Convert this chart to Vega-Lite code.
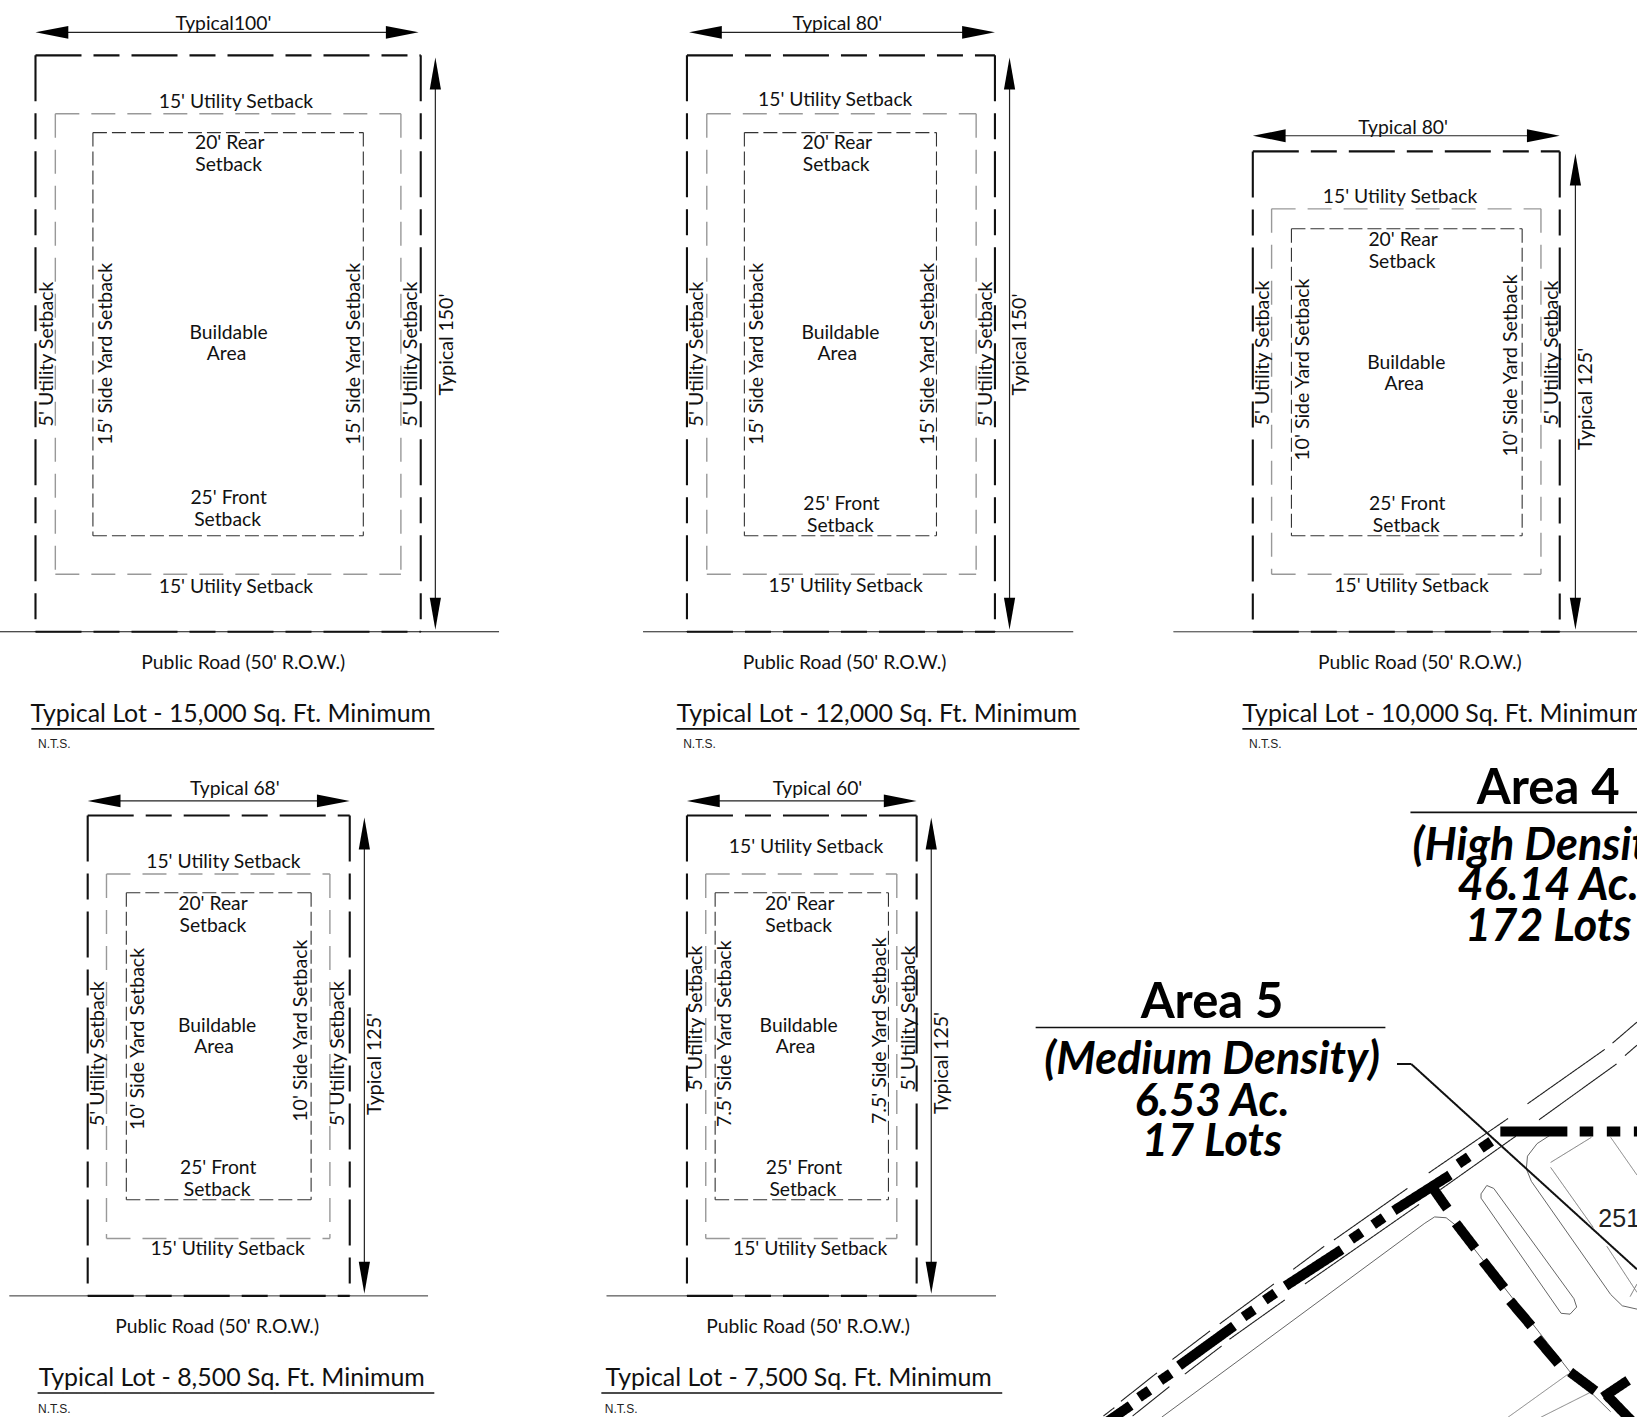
{
"$schema":"https://vega.github.io/schema/vega-lite/v6.json",
"width":1637,"height":1417,"padding":0,"background":"white",
"autosize":"none",
"config":{"view":{"stroke":null}},
"datasets":{
"paths":[
{"p":"lot","o":1,"x":1112.7,"y":1357.2},{"p":"lot","o":2,"x":1364.8,"y":1171.4},{"p":"lot","o":3,"x":1374.1,"y":1165.4},{"p":"lot","o":4,"x":1385.2,"y":1166.2},{"p":"lot","o":5,"x":1394.5,"y":1173.5},{"p":"lot","o":6,"x":1503.9,"y":1313.9},{"p":"lot","o":7,"x":1542.8,"y":1352},
{"p":"pond","o":1,"x":1490.9,"y":1083.2},{"p":"pond","o":2,"x":1472.3,"y":1095.2},{"p":"pond","o":3,"x":1463.1,"y":1107.2},{"p":"pond","o":4,"x":1462,"y":1119.3},{"p":"pond","o":5,"x":1466.8,"y":1131.3},{"p":"pond","o":6,"x":1542.8,"y":1239.7},{"p":"pond","o":7,"x":1553.9,"y":1250.5},{"p":"pond","o":8,"x":1568,"y":1253.7},
{"p":"island","o":1,"x":1418.6,"y":1143.3},{"p":"island","o":2,"x":1424.1,"y":1135.3},{"p":"island","o":3,"x":1430.8,"y":1138.1},{"p":"island","o":4,"x":1507.6,"y":1243.7},{"p":"island","o":5,"x":1510.2,"y":1251.7},{"p":"island","o":6,"x":1503.9,"y":1258.5},{"p":"island","o":7,"x":1495.3,"y":1257.7},{"p":"island","o":8,"x":1418.6,"y":1147.4},{"p":"island","o":9,"x":1418.6,"y":1143.3}
],
"segments":[
{"k":"road","x":0,"x2":478,"y":605,"y2":605},{"k":"road","x":616,"x2":1028,"y":605,"y2":605},{"k":"road","x":1124,"x2":1568,"y":605,"y2":605},{"k":"road","x":9,"x2":410,"y":1241,"y2":1241},{"k":"road","x":581,"x2":954,"y":1241,"y2":1241},

{"k":"outer","x":34,"x2":403,"y":53,"y2":53},{"k":"outer","x":34,"x2":403,"y":605,"y2":605},{"k":"outer","x":34,"x2":34,"y":53,"y2":605},{"k":"outer","x":403,"x2":403,"y":53,"y2":605},
{"k":"outer","x":658,"x2":953,"y":53,"y2":53},{"k":"outer","x":658,"x2":953,"y":605,"y2":605},{"k":"outer","x":658,"x2":658,"y":53,"y2":605},{"k":"outer","x":953,"x2":953,"y":53,"y2":605},
{"k":"outer","x":1200,"x2":1494,"y":145,"y2":145},{"k":"outer","x":1200,"x2":1494,"y":605,"y2":605},{"k":"outer","x":1200,"x2":1200,"y":145,"y2":605},{"k":"outer","x":1494,"x2":1494,"y":145,"y2":605},
{"k":"outer","x":84,"x2":335,"y":781,"y2":781},{"k":"outer","x":84,"x2":335,"y":1241,"y2":1241},{"k":"outer","x":84,"x2":84,"y":781,"y2":1241},{"k":"outer","x":335,"x2":335,"y":781,"y2":1241},
{"k":"outer","x":658,"x2":878,"y":781,"y2":781},{"k":"outer","x":658,"x2":878,"y":1241,"y2":1241},{"k":"outer","x":658,"x2":658,"y":781,"y2":1241},{"k":"outer","x":878,"x2":878,"y":781,"y2":1241},

{"k":"utility","x":53,"x2":384,"y":109,"y2":109},{"k":"utility","x":53,"x2":384,"y":550,"y2":550},{"k":"utility","x":53,"x2":53,"y":109,"y2":550},{"k":"utility","x":384,"x2":384,"y":109,"y2":550},
{"k":"utility","x":677,"x2":935,"y":109,"y2":109},{"k":"utility","x":677,"x2":935,"y":550,"y2":550},{"k":"utility","x":677,"x2":677,"y":109,"y2":550},{"k":"utility","x":935,"x2":935,"y":109,"y2":550},
{"k":"utility","x":1218,"x2":1476,"y":200,"y2":200},{"k":"utility","x":1218,"x2":1476,"y":550,"y2":550},{"k":"utility","x":1218,"x2":1218,"y":200,"y2":550},{"k":"utility","x":1476,"x2":1476,"y":200,"y2":550},
{"k":"utility","x":102,"x2":316,"y":837,"y2":837},{"k":"utility","x":102,"x2":316,"y":1186,"y2":1186},{"k":"utility","x":102,"x2":102,"y":837,"y2":1186},{"k":"utility","x":316,"x2":316,"y":837,"y2":1186},
{"k":"utility","x":676,"x2":859,"y":837,"y2":837},{"k":"utility","x":676,"x2":859,"y":1186,"y2":1186},{"k":"utility","x":676,"x2":676,"y":837,"y2":1186},{"k":"utility","x":859,"x2":859,"y":837,"y2":1186},

{"k":"buildable","x":89,"x2":348,"y":127,"y2":127},{"k":"buildable","x":89,"x2":348,"y":513,"y2":513},{"k":"buildable","x":89,"x2":89,"y":127,"y2":513},{"k":"buildable","x":348,"x2":348,"y":127,"y2":513},
{"k":"buildable","x":713,"x2":897,"y":127,"y2":127},{"k":"buildable","x":713,"x2":897,"y":513,"y2":513},{"k":"buildable","x":713,"x2":713,"y":127,"y2":513},{"k":"buildable","x":897,"x2":897,"y":127,"y2":513},
{"k":"buildable","x":1237,"x2":1458,"y":219,"y2":219},{"k":"buildable","x":1237,"x2":1458,"y":513,"y2":513},{"k":"buildable","x":1237,"x2":1237,"y":219,"y2":513},{"k":"buildable","x":1458,"x2":1458,"y":219,"y2":513},
{"k":"buildable","x":121,"x2":298,"y":855,"y2":855},{"k":"buildable","x":121,"x2":298,"y":1149,"y2":1149},{"k":"buildable","x":121,"x2":121,"y":855,"y2":1149},{"k":"buildable","x":298,"x2":298,"y":855,"y2":1149},
{"k":"buildable","x":685,"x2":851,"y":855,"y2":855},{"k":"buildable","x":685,"x2":851,"y":1149,"y2":1149},{"k":"buildable","x":685,"x2":685,"y":855,"y2":1149},{"k":"buildable","x":851,"x2":851,"y":855,"y2":1149},

{"k":"dim","x":50,"x2":385,"y":31,"y2":31},{"k":"dim","x":417,"x2":417,"y":75,"y2":585},
{"k":"dim","x":676,"x2":937,"y":31,"y2":31},{"k":"dim","x":967,"x2":967,"y":75,"y2":585},
{"k":"dim","x":1216,"x2":1478,"y":130,"y2":130},{"k":"dim","x":1509,"x2":1509,"y":167,"y2":585},
{"k":"dim","x":100,"x2":320,"y":767,"y2":767},{"k":"dim","x":349,"x2":349,"y":803,"y2":1220},
{"k":"dim","x":674,"x2":862,"y":767,"y2":767},{"k":"dim","x":892,"x2":892,"y":803,"y2":1220},

{"k":"underline","x":30,"x2":416,"y":698,"y2":698},{"k":"underline","x":648,"x2":1034,"y":698,"y2":698},{"k":"underline","x":1190,"x2":1568,"y":698,"y2":698},{"k":"underline","x":36,"x2":416,"y":1334,"y2":1334},{"k":"underline","x":576,"x2":960,"y":1334,"y2":1334},
{"k":"underline","x":1351,"x2":1568,"y":778,"y2":778},{"k":"underline","x":992,"x2":1327,"y":984,"y2":984},

{"k":"leader","x":1338.1,"x2":1351.8,"y":1019,"y2":1019},{"k":"leader","x":1351.8,"x2":1568,"y":1019,"y2":1215.6},

{"k":"roadedge","x":1568,"x2":1544.6,"y":978.8,"y2":998.9},{"k":"roadedge","x":1537.2,"x2":1463.1,"y":1004.9,"y2":1057.1},{"k":"roadedge","x":1444.5,"x2":1368.5,"y":1071.1,"y2":1123.3},{"k":"roadedge","x":1348.1,"x2":1277.7,"y":1138.1,"y2":1187.5},{"k":"roadedge","x":1268.4,"x2":1238.7,"y":1193.5,"y2":1215.6},{"k":"roadedge","x":1220.2,"x2":1168.3,"y":1229.6,"y2":1267.8},{"k":"roadedge","x":1159,"x2":1123,"y":1274.6,"y2":1301.9},{"k":"roadedge","x":1108.2,"x2":1073.7,"y":1314.7,"y2":1342},{"k":"roadedge","x":1067.4,"x2":1057,"y":1348,"y2":1356},
{"k":"roadedge","x":1568,"x2":1556.5,"y":1000.9,"y2":1010.9},{"k":"roadedge","x":1548.4,"x2":1474.2,"y":1018.9,"y2":1072.3},{"k":"roadedge","x":1452,"x2":1379.6,"y":1088,"y2":1139.3},{"k":"roadedge","x":1359.3,"x2":1249.9,"y":1153.4,"y2":1229.6},{"k":"roadedge","x":1230.6,"x2":1177.6,"y":1244.9,"y2":1282.6},{"k":"roadedge","x":1170.1,"x2":1134.9,"y":1289,"y2":1315.9},{"k":"roadedge","x":1120.1,"x2":1084.9,"y":1327.9,"y2":1356},

{"k":"lotline","x":1502,"x2":1444.5,"y":1315.9,"y2":1357.2},{"k":"lotline","x":1526.1,"x2":1476,"y":1332,"y2":1357.2},{"k":"lotline","x":1542.8,"x2":1568,"y":1089.2,"y2":1125.3},

{"k":"easement","x":1524.3,"x2":1485.3,"y":1089.2,"y2":1113.2},{"k":"easement","x":1485.3,"x2":1526.1,"y":1118,"y2":1175.5},{"k":"easement","x":1539.1,"x2":1568,"y":1193.5,"y2":1237.7},{"k":"easement","x":1561.4,"x2":1568,"y":1241.7,"y2":1229.6},

{"k":"boundary","x":1437.1,"x2":1501.3,"y":1083.6,"y2":1083.6},{"k":"boundary","x":1513.1,"x2":1526.1,"y":1083.6,"y2":1083.6},{"k":"boundary","x":1539.1,"x2":1552,"y":1083.6,"y2":1083.6},{"k":"boundary","x":1565,"x2":1568,"y":1083.6,"y2":1083.6},
{"k":"boundary","x":1418.4,"x2":1428.4,"y":1099.8,"y2":1093},{"k":"boundary","x":1396.9,"x2":1406.9,"y":1114.6,"y2":1107.8},{"k":"boundary","x":1388.9,"x2":1335.2,"y":1125.3,"y2":1159.4},{"k":"boundary","x":1315.3,"x2":1325.3,"y":1172.8,"y2":1166},{"k":"boundary","x":1294.2,"x2":1304.2,"y":1186.9,"y2":1180.1},{"k":"boundary","x":1285.1,"x2":1231.3,"y":1196.7,"y2":1231.6},{"k":"boundary","x":1211.5,"x2":1221.5,"y":1245.1,"y2":1238.3},{"k":"boundary","x":1191.1,"x2":1201.1,"y":1261.1,"y2":1254.3},{"k":"boundary","x":1182,"x2":1129.4,"y":1269.8,"y2":1307.9},{"k":"boundary","x":1111.4,"x2":1121.4,"y":1322.1,"y2":1315.3},{"k":"boundary","x":1091,"x2":1101,"y":1338.2,"y2":1331.4},{"k":"boundary","x":1083,"x2":1057,"y":1346,"y2":1364},
{"k":"boundary","x":1372.2,"x2":1386.3,"y":1137.3,"y2":1157.4},{"k":"boundary","x":1394.5,"x2":1413,"y":1171.4,"y2":1195.5},{"k":"boundary","x":1420.4,"x2":1440.8,"y":1207.6,"y2":1233.6},{"k":"boundary","x":1446.4,"x2":1466.8,"y":1245.7,"y2":1269.8},{"k":"boundary","x":1472.3,"x2":1492.7,"y":1281.8,"y2":1305.9},{"k":"boundary","x":1503.9,"x2":1528,"y":1313.9,"y2":1332},{"k":"boundary","x":1535.4,"x2":1559.5,"y":1338,"y2":1321.9},{"k":"boundary","x":1539,"x2":1568,"y":1336,"y2":1366}
],
"arrows":[
{"d":"l","x":34,"y":31},{"d":"r","x":401,"y":31},{"d":"u","x":417,"y":55},{"d":"b","x":417,"y":603},
{"d":"l","x":660,"y":31},{"d":"r","x":953,"y":31},{"d":"u","x":967,"y":55},{"d":"b","x":967,"y":603},
{"d":"l","x":1200,"y":130},{"d":"r","x":1494,"y":130},{"d":"u","x":1509,"y":147},{"d":"b","x":1509,"y":603},
{"d":"l","x":84,"y":767},{"d":"r","x":335,"y":767},{"d":"u","x":349,"y":783},{"d":"b","x":349,"y":1239},
{"d":"l","x":658,"y":767},{"d":"r","x":878,"y":767},{"d":"u","x":892,"y":783},{"d":"b","x":892,"y":1239}
],
"labels":[
{"g":"h","t":"Typical100'","x":214,"y":22},{"g":"h","t":"15' Utility Setback","x":226,"y":97},{"g":"h","t":"15' Utility Setback","x":226,"y":561},{"g":"h","t":"20' Rear","x":220,"y":136},{"g":"h","t":"Setback","x":219,"y":157},{"g":"h","t":"Buildable","x":219,"y":318},{"g":"h","t":"Area","x":217,"y":338},{"g":"h","t":"25' Front","x":219,"y":476},{"g":"h","t":"Setback","x":218,"y":497},{"g":"h","t":"Public Road (50' R.O.W.)","x":233,"y":634},{"g":"title","t":"Typical Lot - 15,000 Sq. Ft. Minimum","x":221,"y":683},{"g":"nts","t":"N.T.S.","x":52,"y":712},
{"g":"v","t":"5' Utility Setback","x":45,"y":339},{"g":"v","t":"15' Side Yard Setback","x":102,"y":339},{"g":"v","t":"15' Side Yard Setback","x":339,"y":339},{"g":"v","t":"5' Utility Setback","x":394,"y":339},{"g":"v","t":"Typical 150'","x":428,"y":330},

{"g":"h","t":"Typical 80'","x":802,"y":22},{"g":"h","t":"15' Utility Setback","x":800,"y":95},{"g":"h","t":"15' Utility Setback","x":810,"y":560},{"g":"h","t":"20' Rear","x":802,"y":136},{"g":"h","t":"Setback","x":801,"y":157},{"g":"h","t":"Buildable","x":805,"y":318},{"g":"h","t":"Area","x":802,"y":338},{"g":"h","t":"25' Front","x":806,"y":482},{"g":"h","t":"Setback","x":805,"y":503},{"g":"h","t":"Public Road (50' R.O.W.)","x":809,"y":634},{"g":"title","t":"Typical Lot - 12,000 Sq. Ft. Minimum","x":840,"y":683},{"g":"nts","t":"N.T.S.","x":670,"y":712},
{"g":"v","t":"5' Utility Setback","x":668,"y":339},{"g":"v","t":"15' Side Yard Setback","x":725,"y":339},{"g":"v","t":"15' Side Yard Setback","x":889,"y":339},{"g":"v","t":"5' Utility Setback","x":944,"y":339},{"g":"v","t":"Typical 150'","x":977,"y":330},

{"g":"h","t":"Typical 80'","x":1344,"y":122},{"g":"h","t":"15' Utility Setback","x":1341,"y":188},{"g":"h","t":"15' Utility Setback","x":1352,"y":560},{"g":"h","t":"20' Rear","x":1344,"y":229},{"g":"h","t":"Setback","x":1343,"y":250},{"g":"h","t":"Buildable","x":1347,"y":347},{"g":"h","t":"Area","x":1345,"y":367},{"g":"h","t":"25' Front","x":1348,"y":482},{"g":"h","t":"Setback","x":1347,"y":503},{"g":"h","t":"Public Road (50' R.O.W.)","x":1360,"y":634},{"g":"title","t":"Typical Lot - 10,000 Sq. Ft. Minimum","x":1382,"y":683},{"g":"nts","t":"N.T.S.","x":1212,"y":712},
{"g":"v","t":"5' Utility Setback","x":1210,"y":338},{"g":"v","t":"10' Side Yard Setback","x":1248,"y":354},{"g":"v","t":"10' Side Yard Setback","x":1447,"y":350},{"g":"v","t":"5' Utility Setback","x":1487,"y":338},{"g":"v","t":"Typical 125'","x":1519,"y":382},

{"g":"h","t":"Typical 68'","x":225,"y":755},{"g":"h","t":"15' Utility Setback","x":214,"y":825},{"g":"h","t":"15' Utility Setback","x":218,"y":1195},{"g":"h","t":"20' Rear","x":204,"y":865},{"g":"h","t":"Setback","x":204,"y":886},{"g":"h","t":"Buildable","x":208,"y":982},{"g":"h","t":"Area","x":205,"y":1002},{"g":"h","t":"25' Front","x":209,"y":1118},{"g":"h","t":"Setback","x":208,"y":1139},{"g":"h","t":"Public Road (50' R.O.W.)","x":208,"y":1270},{"g":"title","t":"Typical Lot - 8,500 Sq. Ft. Minimum","x":222,"y":1319},{"g":"nts","t":"N.T.S.","x":52,"y":1348},
{"g":"v","t":"5' Utility Setback","x":94,"y":1009},{"g":"v","t":"10' Side Yard Setback","x":132,"y":995},{"g":"v","t":"10' Side Yard Setback","x":288,"y":987},{"g":"v","t":"5' Utility Setback","x":324,"y":1009},{"g":"v","t":"Typical 125'","x":359,"y":1019},

{"g":"h","t":"Typical 60'","x":783,"y":755},{"g":"h","t":"15' Utility Setback","x":772,"y":810},{"g":"h","t":"15' Utility Setback","x":776,"y":1195},{"g":"h","t":"20' Rear","x":766,"y":865},{"g":"h","t":"Setback","x":765,"y":886},{"g":"h","t":"Buildable","x":765,"y":982},{"g":"h","t":"Area","x":762,"y":1002},{"g":"h","t":"25' Front","x":770,"y":1118},{"g":"h","t":"Setback","x":769,"y":1139},{"g":"h","t":"Public Road (50' R.O.W.)","x":774,"y":1270},{"g":"title","t":"Typical Lot - 7,500 Sq. Ft. Minimum","x":765,"y":1319},{"g":"nts","t":"N.T.S.","x":595,"y":1348},
{"g":"v","t":"5' Utility Setback","x":667,"y":975},{"g":"v","t":"7.5' Side Yard Setback","x":694,"y":990},{"g":"v","t":"7.5' Side Yard Setback","x":843,"y":987},{"g":"v","t":"5' Utility Setback","x":871,"y":975},{"g":"v","t":"Typical 125'","x":902,"y":1018},

{"g":"area","t":"Area 4","x":1483,"y":753},{"g":"area","t":"Area 5","x":1161,"y":958},
{"g":"detail","t":"(High Density)","x":1482,"y":808},{"g":"detail","t":"46.14 Ac.","x":1483,"y":847},{"g":"detail","t":"172 Lots","x":1483,"y":886},
{"g":"detail","t":"(Medium Density)","x":1161,"y":1013},{"g":"detail","t":"6.53 Ac.","x":1161,"y":1053},{"g":"detail","t":"17 Lots","x":1161,"y":1092},
{"g":"map","t":"251","x":1531,"y":1167}
]
},
"encoding":{
"x":{"field":"x","type":"quantitative","scale":{"domain":[0,1568],"nice":false,"zero":false},"axis":null},
"y":{"field":"y","type":"quantitative","scale":{"domain":[1357,0],"nice":false,"zero":false},"axis":null}
},
"layer":[
{"data":{"name":"paths"},"mark":{"type":"line","stroke":"#666666","strokeWidth":1,"interpolate":"linear","clip":true},"encoding":{"detail":{"field":"p"},"order":{"field":"o","type":"quantitative"}}},
{"data":{"name":"segments"},"mark":{"type":"rule","clip":true},"encoding":{
"x2":{"field":"x2"},"y2":{"field":"y2"},
"color":{"field":"k","type":"nominal","legend":null,"scale":{"domain":["road","outer","utility","buildable","dim","underline","leader","roadedge","lotline","easement","boundary"],"range":["#111111","#111111","#999999","#333333","#222222","#111111","#111111","#222222","#666666","#777777","#000000"]}},
"strokeWidth":{"field":"k","type":"nominal","legend":null,"scale":{"type":"ordinal","domain":["road","outer","utility","buildable","dim","underline","leader","roadedge","lotline","easement","boundary"],"range":[1,2.1,1.4,1.1,1.2,1.6,2,1.1,0.8,1,10]}},
"strokeDash":{"field":"k","type":"nominal","legend":null,"scale":{"type":"ordinal","domain":["road","outer","utility","buildable","dim","underline","leader","roadedge","lotline","easement","boundary"],"range":[[1,0],[46,12,26,12],[24,12],[14,5],[1,0],[1,0],[1,0],[1,0],[1,0],[1,0],[1,0]]}}
}},
{"data":{"name":"arrows"},"transform":[{"filter":"datum.d==='l'"}],"mark":{"type":"point","filled":true,"color":"#000","opacity":1,"strokeWidth":0,"size":256,"shape":"M0,0L4.1,-0.8L4.1,0.8Z"}},
{"data":{"name":"arrows"},"transform":[{"filter":"datum.d==='r'"}],"mark":{"type":"point","filled":true,"color":"#000","opacity":1,"strokeWidth":0,"size":256,"shape":"M0,0L-4.1,-0.8L-4.1,0.8Z"}},
{"data":{"name":"arrows"},"transform":[{"filter":"datum.d==='u'"}],"mark":{"type":"point","filled":true,"color":"#000","opacity":1,"strokeWidth":0,"size":256,"shape":"M0,0L-0.7,4L0.7,4Z"}},
{"data":{"name":"arrows"},"transform":[{"filter":"datum.d==='b'"}],"mark":{"type":"point","filled":true,"color":"#000","opacity":1,"strokeWidth":0,"size":256,"shape":"M0,0L-0.7,-4L0.7,-4Z"}},
{"data":{"name":"labels"},"transform":[{"filter":"datum.g==='h'"}],"mark":{"type":"text","font":"Lato","fontSize":19.3,"color":"#111","baseline":"middle","align":"center","yOffset":1},"encoding":{"text":{"field":"t"}}},
{"data":{"name":"labels"},"transform":[{"filter":"datum.g==='v'"}],"mark":{"type":"text","font":"Lato","fontSize":19.5,"color":"#111","baseline":"middle","align":"center","angle":270},"encoding":{"text":{"field":"t"}}},
{"data":{"name":"labels"},"transform":[{"filter":"datum.g==='title'"}],"mark":{"type":"text","font":"Lato","fontSize":24.9,"color":"#111","baseline":"middle","align":"center","yOffset":2},"encoding":{"text":{"field":"t"}}},
{"data":{"name":"labels"},"transform":[{"filter":"datum.g==='nts'"}],"mark":{"type":"text","font":"Liberation Sans","fontSize":12,"color":"#222","baseline":"middle","align":"center","yOffset":1},"encoding":{"text":{"field":"t"}}},
{"data":{"name":"labels"},"transform":[{"filter":"datum.g==='area'"}],"mark":{"type":"text","font":"Lato","fontWeight":"bold","fontSize":49,"color":"#000","baseline":"middle","align":"center","yOffset":3},"encoding":{"text":{"field":"t"}}},
{"data":{"name":"labels"},"transform":[{"filter":"datum.g==='detail'"}],"mark":{"type":"text","font":"Lato","fontWeight":"bold","fontStyle":"italic","fontSize":45,"color":"#000","baseline":"middle","align":"center","yOffset":2},"encoding":{"text":{"field":"t"}}},
{"data":{"name":"labels"},"transform":[{"filter":"datum.g==='map'"}],"mark":{"type":"text","font":"Liberation Sans","fontSize":25,"color":"#222","baseline":"middle","align":"left"},"encoding":{"text":{"field":"t"}}}
]
}
